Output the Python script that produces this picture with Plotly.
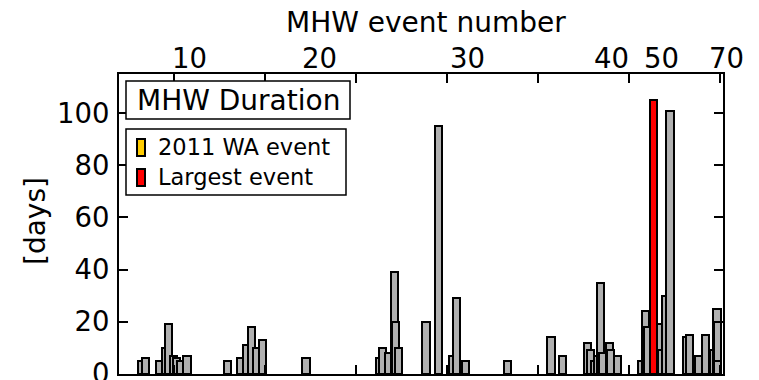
import plotly.graph_objects as go

# ---- data ----
start_year = [1983.04, 1983.26, 1984.01, 1984.36, 1984.53, 1984.80, 1984.97, 1985.16, 1985.53,
              1987.77, 1988.48, 1988.81, 1989.09, 1989.36, 1989.69, 1992.07,
              1996.10, 1996.29, 1996.62, 1996.95, 1997.00, 1997.16, 1998.66, 1999.36,
              2000.13, 2000.34, 2000.83, 2003.15, 2005.53, 2006.18,
              2007.55, 2007.71, 2007.93, 2008.10, 2008.26, 2008.37, 2008.74, 2008.78, 2009.20,
              2010.52, 2010.71, 2010.82, 2011.56, 2011.62, 2011.81, 2012.07,
              2012.97, 2013.15, 2013.65, 2014.01, 2014.47, 2014.65, 2014.66, 2014.67]
duration = [5, 6, 5, 10, 19, 7, 6, 5, 7,
            5, 6, 11, 18, 10, 13, 6,
            6, 10, 8, 39, 20, 10, 20, 95,
            7, 29, 5, 5, 14, 7,
            12, 9, 5, 7, 35, 8, 12, 9, 7,
            5, 24, 18, 19, 9, 30, 101,
            14, 15, 7, 15, 9, 25, 20, 5]

largest_year = [2011.15]
largest_duration = [105]

year_ticks = [1985, 1990, 1995, 2000, 2005, 2010, 2015]
y_ticks = [0, 20, 40, 60, 80, 100]
event_numbers = ["10", "20", "30", "40", "50", "70"]
event_years = [1985.85, 1992.99, 2001.12, 2009.03, 2011.78, 2015.35]

legend_labels = ["2011 WA event", "Largest event"]
legend_colors = ["#ffcc00", "#ff0000"]

XMIN, XMAX = 1982.0, 2015.18
YMIN, YMAX = -0.05, 115
BAR_W = 0.4
FONT = "DejaVu Sans"

# plot-area geometry (pixels)
L, R, T, B = 119, 36, 74, 6
W, H = 759, 380
PW, PH = W - L - R, H - T - B


def px(x):
    return (x - L) / PW


def py(y):
    return (H - B - y) / PH


fig = go.Figure()
fig.add_trace(go.Bar(x=start_year, y=duration, width=BAR_W, offset=0,
                     marker=dict(color="#b0b0b0", line=dict(color="black", width=2)),
                     showlegend=False))
fig.add_trace(go.Bar(x=largest_year, y=largest_duration, width=BAR_W, offset=0,
                     marker=dict(color=legend_colors[1], line=dict(color="black", width=2)),
                     showlegend=False))

annotations = []
# top event-number labels
for lab, yr in zip(event_numbers, event_years):
    annotations.append(dict(x=(yr - XMIN) / (XMAX - XMIN), xref="paper", y=py(58), yref="paper",
                            text=lab, showarrow=False, xanchor="center", yanchor="middle",
                            font=dict(family=FONT, size=27.5, color="black")))
annotations.append(dict(x=px(426), xref="paper", y=py(22), yref="paper", text="MHW event number",
                        showarrow=False, xanchor="center", yanchor="middle",
                        font=dict(family=FONT, size=28, color="black")))
# y-axis label
annotations.append(dict(x=px(35), xref="paper", y=py(221), yref="paper", text="[days]",
                        showarrow=False, xanchor="center", yanchor="middle", textangle=-90,
                        font=dict(family=FONT, size=28, color="black")))
# "MHW Duration" box text
annotations.append(dict(x=px(238), xref="paper", y=py(100), yref="paper", text="MHW Duration",
                        showarrow=False, xanchor="center", yanchor="middle",
                        font=dict(family=FONT, size=28, color="black")))
# legend texts
for i, lab in enumerate(legend_labels):
    annotations.append(dict(x=px(156), xref="paper", y=py(147 + 30 * i), yref="paper", text=lab,
                            showarrow=False, xanchor="left", yanchor="middle",
                            font=dict(family=FONT, size=22.5, color="black")))

shapes = []
shapes.append(dict(type="rect", xref="paper", yref="paper", x0=px(126), x1=px(350), y0=py(119), y1=py(81),
                   line=dict(color="black", width=1.5), fillcolor="white", layer="above"))
shapes.append(dict(type="rect", xref="paper", yref="paper", x0=px(126), x1=px(346), y0=py(195), y1=py(129),
                   line=dict(color="black", width=1.5), fillcolor="white", layer="above"))
for i, c in enumerate(legend_colors):
    shapes.append(dict(type="rect", xref="paper", yref="paper", x0=px(137), x1=px(145),
                       y0=py(156 + 30 * i), y1=py(139 + 30 * i),
                       line=dict(color="black", width=2), fillcolor=c, layer="above"))

fig.update_layout(
    width=W, height=H,
    margin=dict(l=L, r=R, t=T, b=B, autoexpand=False),
    paper_bgcolor="white", plot_bgcolor="white",
    barmode="overlay", bargap=0,
    font=dict(family=FONT, color="black"),
    annotations=annotations, shapes=shapes,
    xaxis=dict(range=[XMIN, XMAX], tickvals=year_ticks, showticklabels=False,
               ticks="inside", ticklen=9, tickwidth=1.5, tickcolor="black",
               showline=True, linewidth=2, linecolor="black", mirror="allticks",
               showgrid=False, zeroline=False),
    yaxis=dict(range=[YMIN, YMAX], tickvals=y_ticks,
               ticks="inside", ticklen=9, tickwidth=1.5, tickcolor="black",
               showline=True, linewidth=2, linecolor="black", mirror="allticks",
               showgrid=False, zeroline=False, ticklabelstandoff=2, ticklabeloverflow="allow",
               tickfont=dict(family=FONT, size=27.5, color="black")),
)

fig.write_html("out.html")
